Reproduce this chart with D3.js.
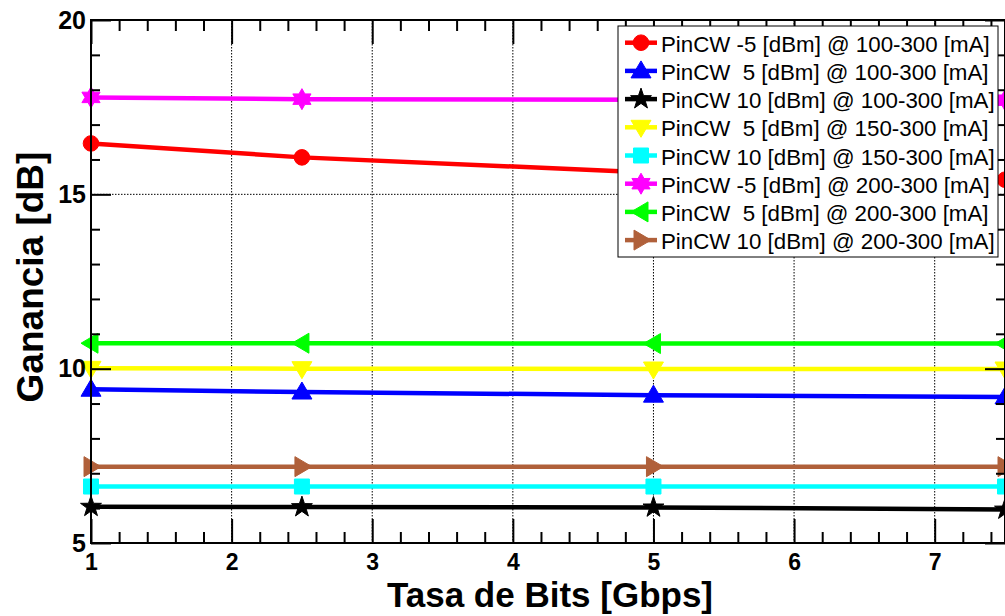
<!DOCTYPE html>
<html>
<head>
<meta charset="utf-8">
<script src="https://cdn.jsdelivr.net/npm/d3@7"></script>
<style>
  html, body { margin: 0; padding: 0; background: #fff; }
  svg { display: block; }
  text { font-family: "Liberation Sans", Arial, sans-serif; }
</style>
</head>
<body>
<svg id="chart" width="1005" height="616"></svg>
<script>
// Bit rate (Gbps) at which gain was measured
const bitRates = [1, 2.5, 5, 7.5];

// Gain (dB) per input CW power / bias current range
const gainM5_100 = [16.46, 16.06, 15.62, 15.42];
const gain5_100  = [9.41, 9.33, 9.24, 9.19];
const gain10_100 = [6.04, 6.03, 6.02, 5.96];
const gain5_150  = [10.01, 10.00, 9.99, 9.99];
const gain10_150 = [6.62, 6.62, 6.62, 6.62];
const gainM5_200 = [17.78, 17.73, 17.71, 17.70];
const gain5_200  = [10.73, 10.73, 10.72, 10.72];
const gain10_200 = [7.19, 7.19, 7.19, 7.19];

const seriesNames = [
  "PinCW -5 [dBm] @ 100-300 [mA]",
  "PinCW  5 [dBm] @ 100-300 [mA]",
  "PinCW 10 [dBm] @ 100-300 [mA]",
  "PinCW  5 [dBm] @ 150-300 [mA]",
  "PinCW 10 [dBm] @ 150-300 [mA]",
  "PinCW -5 [dBm] @ 200-300 [mA]",
  "PinCW  5 [dBm] @ 200-300 [mA]",
  "PinCW 10 [dBm] @ 200-300 [mA]"
];
const seriesValues = [gainM5_100, gain5_100, gain10_100, gain5_150, gain10_150, gainM5_200, gain5_200, gain10_200];
const seriesColors = ["#ff0000", "#0000ff", "#000000", "#ffff00", "#00ffff", "#ff00ff", "#00ff00", "#b0603a"];
const seriesMarkers = ["circle", "triUp", "star5", "triDown", "square", "star6", "triLeft", "triRight"];

const xTicks = [1, 2, 3, 4, 5, 6, 7];
const yTicks = [5, 10, 15, 20];

const svg = d3.select("#chart");
const pLeft = 91, pRight = 1005, pTop = 20, pBottom = 543;

const x = d3.scaleLinear().domain([1, 7.5]).range([pLeft, pRight]);
const y = d3.scaleLinear().domain([5, 20]).range([pBottom, pTop]);

// dotted grid
const grid = svg.append("g");
grid.selectAll("line.gx").data(xTicks.filter(d => d > 1)).join("line")
  .attr("x1", d => x(d)).attr("x2", d => x(d))
  .attr("y1", pTop).attr("y2", pBottom)
  .attr("stroke", "#000").attr("stroke-width", 1).attr("stroke-dasharray", "1.5,1.5");
grid.selectAll("line.gy").data([10, 15]).join("line")
  .attr("x1", pLeft).attr("x2", pRight)
  .attr("y1", d => y(d)).attr("y2", d => y(d))
  .attr("stroke", "#000").attr("stroke-width", 1).attr("stroke-dasharray", "1.5,1.5");

// marker shapes
function starPath(n, R, r) {
  const pts = [];
  for (let i = 0; i < 2 * n; i++) {
    const a = -Math.PI / 2 + i * Math.PI / n;
    const rad = i % 2 === 0 ? R : r;
    pts.push([rad * Math.cos(a), rad * Math.sin(a)]);
  }
  return "M" + pts.map(p => p.join(",")).join("L") + "Z";
}
function markerPath(kind) {
  switch (kind) {
    case "circle": return d3.symbol().type(d3.symbolCircle).size(Math.PI * 7.8 * 7.8)();
    case "square": return "M-7.5,-7.5L7.5,-7.5L7.5,7.5L-7.5,7.5Z";
    case "triUp": return "M0,-10L10,7L-10,7Z";
    case "triDown": return "M0,10L10,-7L-10,-7Z";
    case "triLeft": return "M-10,0L7,-10L7,10Z";
    case "triRight": return "M10,0L-7,-10L-7,10Z";
    case "star5": return starPath(5, 11, 4.3);
    case "star6": return starPath(6, 10.5, 6);
  }
}

// series
const line = d3.line().x(d => x(d[0])).y(d => y(d[1]));
seriesValues.forEach((vals, i) => {
  const pts = bitRates.map((b, j) => [b, vals[j]]);
  const g = svg.append("g");
  g.append("path").attr("d", line(pts))
    .attr("fill", "none").attr("stroke", seriesColors[i]).attr("stroke-width", 4.5);
  g.selectAll("path.m").data(pts).join("path")
    .attr("class", "m")
    .attr("d", markerPath(seriesMarkers[i]))
    .attr("transform", d => `translate(${x(d[0])},${y(d[1])})`)
    .attr("fill", seriesColors[i]).attr("stroke", seriesColors[i]).attr("stroke-width", 1);
});

// axes
const fmt = d3.format("d");
const xMinor = d3.range(1, 7.6, 0.2).map(v => +v.toFixed(1)).filter(v => !xTicks.includes(v));
const yMinor = d3.range(5, 20.01, 1).filter(v => !yTicks.includes(v));

function styleAxis(size) {
  return g => {
    g.select(".domain").remove();
    g.selectAll(".tick line").attr("stroke", "#000").attr("stroke-width", 2);
    g.selectAll("text").attr("font-size", size).attr("font-weight", "bold").attr("fill", "#000")
      .attr("font-family", "'Liberation Sans', Arial, sans-serif");
  };
}

svg.append("g").attr("transform", `translate(0,${pBottom})`)
  .call(d3.axisBottom(x).tickValues(xTicks).tickSize(-24).tickPadding(11).tickFormat(fmt)).call(styleAxis(23));
svg.append("g").attr("transform", `translate(0,${pBottom})`)
  .call(d3.axisBottom(x).tickValues(xMinor).tickSize(-11).tickFormat("")).call(styleAxis(23));
svg.append("g").attr("transform", `translate(0,${pTop})`)
  .call(d3.axisTop(x).tickValues(xTicks).tickSize(-24).tickFormat("")).call(styleAxis(23));
svg.append("g").attr("transform", `translate(0,${pTop})`)
  .call(d3.axisTop(x).tickValues(xMinor).tickSize(-11).tickFormat("")).call(styleAxis(23));

svg.append("g").attr("transform", `translate(${pLeft},0)`)
  .call(d3.axisLeft(y).tickValues(yTicks).tickSize(-20).tickPadding(5).tickFormat(fmt)).call(styleAxis(25));
svg.append("g").attr("transform", `translate(${pLeft},0)`)
  .call(d3.axisLeft(y).tickValues(yMinor).tickSize(-9).tickFormat("")).call(styleAxis(25));
svg.append("g").attr("transform", `translate(${pRight},0)`)
  .call(d3.axisRight(y).tickValues(yTicks).tickSize(-20).tickFormat("")).call(styleAxis(25));
svg.append("g").attr("transform", `translate(${pRight},0)`)
  .call(d3.axisRight(y).tickValues(yMinor).tickSize(-9).tickFormat("")).call(styleAxis(25));

// frame
svg.append("rect").attr("x", pLeft).attr("y", pTop)
  .attr("width", pRight - pLeft).attr("height", pBottom - pTop)
  .attr("fill", "none").attr("stroke", "#000").attr("stroke-width", 2);

// axis titles
svg.append("text").attr("x", 550).attr("y", 607)
  .attr("text-anchor", "middle").attr("font-size", 35).attr("font-weight", "bold")
  .text("Tasa de Bits [Gbps]");
svg.append("text").attr("transform", "translate(43,277) rotate(-90)")
  .attr("text-anchor", "middle").attr("font-size", 37).attr("font-weight", "bold")
  .text("Ganancia [dB]");

// legend
const lg = svg.append("g");
const lgX = 618, lgY = 26, lgW = 380, lgH = 231, rowH = 28.2, row0 = 42.7;
lg.append("rect").attr("x", lgX).attr("y", lgY).attr("width", lgW).attr("height", lgH)
  .attr("fill", "#fff").attr("stroke", "#000").attr("stroke-width", 1);
seriesNames.forEach((name, i) => {
  const cy = row0 + i * rowH;
  lg.append("line").attr("x1", 625).attr("x2", 657).attr("y1", cy).attr("y2", cy)
    .attr("stroke", seriesColors[i]).attr("stroke-width", 4.5);
  lg.append("path").attr("d", markerPath(seriesMarkers[i]))
    .attr("transform", `translate(641,${cy})`)
    .attr("fill", seriesColors[i]).attr("stroke", seriesColors[i]).attr("stroke-width", 1);
  lg.append("text").attr("x", 661).attr("y", cy + 9)
    .attr("font-size", 22.3).attr("fill", "#000")
    .style("white-space", "pre")
    .text(name);
});
</script>
</body>
</html>
